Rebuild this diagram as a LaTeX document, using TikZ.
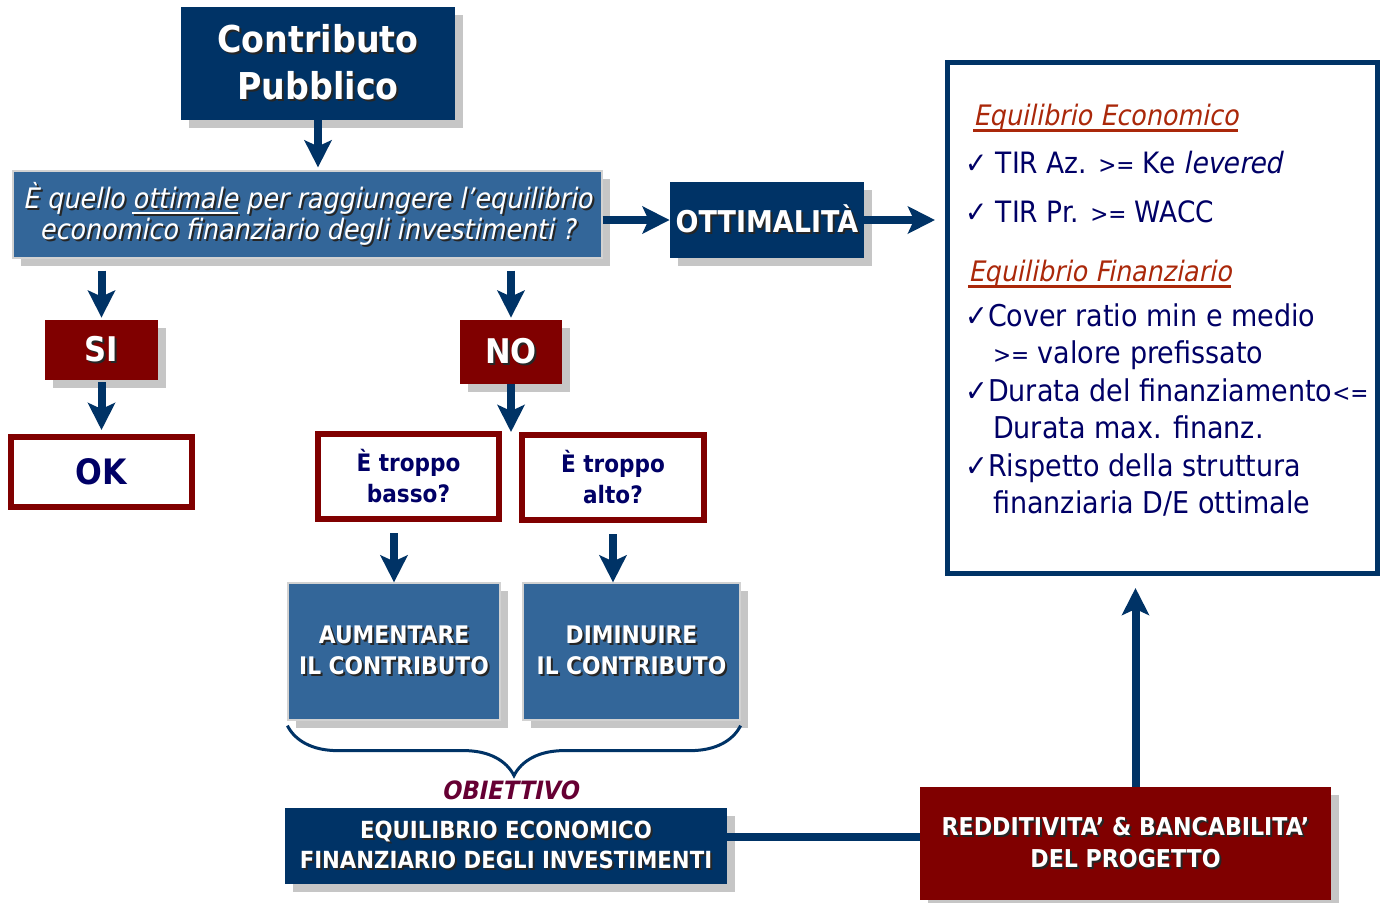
\documentclass[tikz,border=0pt]{standalone}
\usepackage{fontspec}
\setmainfont{DejaVu Sans}[FakeStretch=0.9,
  ItalicFont=DejaVu Sans,ItalicFeatures={FakeSlant=0.2},
  BoldItalicFont=DejaVu Sans Bold,BoldItalicFeatures={FakeSlant=0.2}]
\usetikzlibrary{arrows.meta,positioning,calc,shadows,decorations.pathreplacing}
\definecolor{navy}{RGB}{0,51,102}
\definecolor{steel}{RGB}{51,102,153}
\definecolor{darkred}{RGB}{128,0,0}
\definecolor{inkblue}{RGB}{0,0,102}
\definecolor{headred}{RGB}{170,40,10}
\definecolor{plum}{RGB}{102,0,51}
\newdimen\pxl \pxl=0.5pt
\newsavebox\ulbox
\newcommand{\tsh}[1]{\leavevmode\rlap{\textcolor{black!85}{\kern1pt\raisebox{-1pt}{#1}}}#1}
\newcommand{\uln}[2]{\sbox\ulbox{#2}\rlap{\usebox\ulbox}\rule[-3pt]{\wd\ulbox}{#1}}
\newcommand{\fs}[2]{\fontsize{#1}{#2}\selectfont}
\newcommand{\cmp}[1]{{\fontsize{12}{12}\selectfont #1}}
\tikzset{
  shadowed/.style={drop shadow={shadow xshift=4pt,shadow yshift=-4pt,fill=gray!45,opacity=1}},
  navybox/.style={fill=navy,text=white,align=center,inner sep=0pt,shadowed},
  steelbox/.style={fill=steel,draw=gray!35,line width=0.6pt,text=white,align=center,inner sep=0pt,shadowed},
  redbox/.style={fill=darkred,text=white,align=center,inner sep=0pt,shadowed},
  framebox/.style={draw=darkred,line width=3pt,fill=white,text=inkblue,align=center,inner sep=0pt},
  arr/.style={draw=navy,line width=4pt,-{Stealth[length=13.5pt,width=13.5pt,inset=3pt]}},
  link/.style={draw=navy,line width=4pt},
  item/.style={anchor=west,text=inkblue,inner sep=0pt,align=left}
}
\begin{document}
\begin{tikzpicture}[x=0.5pt,y=-0.5pt]
		\useasboundingbox[fill=white] (0,0) rectangle (1383,902);
		% draw boxes on the left
		\node[navybox,minimum width=274\pxl,minimum height=113\pxl,font=\bfseries\fs{18.5}{23.5}] (cp) at (318,63.5) {\tsh{Contributo}\\\tsh{Pubblico}};
		\node[steelbox,minimum width=589\pxl,minimum height=87\pxl,font=\itshape\fs{14.1}{15.5}] (q) at (307.5,214.5)
		{\tsh{È quello \uln{1pt}{ottimale} per raggiungere l’equilibrio}\\\tsh{economico finanziario degli investimenti ?}};
		\node[navybox,minimum width=194\pxl,minimum height=76\pxl,font=\bfseries\fs{15}{18}] (ott) at (767,220) {\tsh{OTTIMALITÀ}};
		\node[redbox,minimum width=113\pxl,minimum height=60\pxl,font=\bfseries\fs{17}{20}] (si) at (101.5,350) {\tsh{SI}};
		\node[redbox,minimum width=102\pxl,minimum height=64\pxl,font=\bfseries\fs{17}{20}] (no) at (511,352) {\tsh{NO}};
		\node[framebox,minimum width=181\pxl,minimum height=70\pxl,font=\bfseries\fs{17.5}{20}] (ok) at (101.5,472) {OK};
		\node[framebox,minimum width=181\pxl,minimum height=85\pxl,font=\bfseries\fs{12}{15.5}] (bas) at (408.5,476.5) {È troppo\\basso?};
		\node[framebox,minimum width=182\pxl,minimum height=85\pxl,font=\bfseries\fs{12}{15.5}] (alt) at (613,477.5) {È troppo\\alto?};
		\coordinate (split) at (511,432);
		\node[steelbox,minimum width=212\pxl,minimum height=137\pxl,font=\bfseries\fs{12.1}{15.5}] (aum) at (394,651.5) {\tsh{AUMENTARE}\\\tsh{IL CONTRIBUTO}};
		\node[steelbox,minimum width=217\pxl,minimum height=137\pxl,font=\bfseries\fs{12.1}{15.5}] (dim) at (631.5,651.5) {\tsh{DIMINUIRE}\\\tsh{IL CONTRIBUTO}};
		\node[text=plum,inner sep=0pt,font=\bfseries\itshape\fs{12.6}{15}] (obj) at (510,790) {OBIETTIVO};
		\node[navybox,minimum width=442\pxl,minimum height=76\pxl,font=\bfseries\fs{11.8}{15}] (equ) at (506,846) {\tsh{EQUILIBRIO ECONOMICO}\\\tsh{FINANZIARIO DEGLI INVESTIMENTI}};
		\node[redbox,minimum width=411\pxl,minimum height=113\pxl,font=\bfseries\fs{12.3}{16}] (red) at (1125.5,843.5) {\tsh{REDDITIVITA’ \& BANCABILITA’}\\\tsh{DEL PROGETTO}};
		% draw box on the right
		\node[draw=navy,line width=2.5pt,fill=white,minimum width=430\pxl,minimum height=511\pxl,inner sep=0pt] (rbox) at (1162.5,318) {};
		\node[item,text=headred,font=\itshape\fs{14.1}{16}] (eco) at (973,118) {\uln{1.2pt}{Equilibrio Economico}};
		\node[item,font=\fs{14.7}{17}] (taz) at (965,163) {✓ TIR Az. \cmp{>=} Ke \textit{levered}};
		\node[item,font=\fs{14.7}{17}] (tpr) at (965,212) {✓ TIR Pr. \cmp{>=} WACC};
		\node[item,text=headred,font=\itshape\fs{14.1}{16}] (fin) at (968,274) {\uln{1.2pt}{Equilibrio Finanziario}};
		\node[item,font=\fs{15}{18.75},anchor=north west] (lst) at (965,303)
		{✓Cover ratio min e medio\\\hphantom{✓}\,\cmp{>=} valore prefissato\\✓Durata del finanziamento\cmp{<=}\\\hphantom{✓}\,Durata max. finanz.\\✓Rispetto della struttura\\\hphantom{✓}\,finanziaria D/E ottimale};
		% draw arrows
		\draw[arr,shorten >=1.5pt] (cp.south) -- (cp.south |- q.north);
		\draw[arr] (q.east |- ott.west) -- (ott.west);
		\draw[arr,shorten >=5pt] (ott.east) -- (ott.east -| rbox.west);
		\foreach \n in {si,no}
		\draw[arr,shorten <=6pt,shorten >=1pt] (\n.north |- q.south) -- (\n.north);
		\draw[arr,shorten <=1pt,shorten >=2pt] (si.south) -- (ok.north);
		\draw[arr] (no.south) -- (split);
		\draw[arr,shorten <=5.5pt] (aum.north |- bas.south) -- (aum.north);
		\draw[arr,shorten <=5.5pt] (alt.south) -- (alt.south |- dim.north);
		\draw[link] ([yshift=4.5pt]equ.east) -- ([yshift=4.5pt]equ.east -| red.west);
		\draw[arr,shorten >=6pt] ([xshift=5pt]red.north) -- ([xshift=5pt]red.north |- rbox.south);
		% draw brace
		\draw[navy,line width=1.5pt,decorate,decoration={brace,amplitude=25pt,aspect=0.5}]
		([yshift=-2.5pt]dim.south east) -- ([yshift=-2.5pt]aum.south west);
\end{tikzpicture}
\end{document}
